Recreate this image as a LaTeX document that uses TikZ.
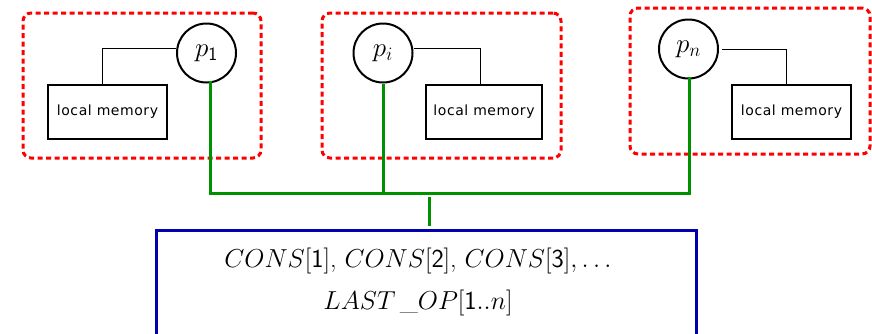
\RequirePackage{fix-cm}
\documentclass[tikz,border=0pt]{standalone}
\usepackage{fontspec}
\newfontfamily\memfont[LetterSpace=4]{DejaVu Sans}
\usetikzlibrary{calc}
\definecolor{busgreen}{RGB}{0,145,0}
\definecolor{sharedblue}{RGB}{0,0,175}
\definecolor{groupred}{RGB}{255,0,0}
\begin{document}
\begin{tikzpicture}[x=1pt,y=-1pt,
  proc/.style={circle,draw,line width=2pt,minimum size=59pt,inner sep=0pt,font=\fontsize{27}{32}\selectfont},
  membox/.style={draw,line width=2pt,minimum width=119pt,minimum height=54pt,inner sep=0pt,font=\memfont\fontsize{14}{16}\selectfont},
  groupbox/.style={draw=groupred,line width=3pt,dash pattern=on 5pt off 3.5pt,rounded corners=8pt,inner sep=0pt},
  wire/.style={line width=1pt},
  bus/.style={draw=busgreen,line width=3pt},
  sharedbox/.style={draw=sharedblue,line width=3pt,minimum width=540pt,minimum height=140pt,inner sep=0pt},
  sharedtxt/.style={align=center,inner sep=0pt,font=\fontsize{26}{42}\selectfont}]
\useasboundingbox (0,0) rectangle (872,333);

% groups
\node[groupbox,minimum width=238pt,minimum height=145pt] (g1) at (142,85.5) {};
\node[groupbox,minimum width=239pt,minimum height=145pt] (gi) at (441.5,85.5) {};
\node[groupbox,minimum width=240pt,minimum height=146pt] (gn) at (750,81) {};

% processes
\node[proc] (p1) at (206.5,53) {$p_{\mathsf{1}}$};
\node[proc] (pi) at (383,53) {$p_i$};
\node[proc] (pn) at (688.5,49) {$p_n$};

% local memories
\node[membox] (m1) at (107.5,112) {local memory};
\node[membox,minimum width=116pt] (mi) at (484,112) {local memory};
\node[membox] (mn) at (791.5,112) {local memory};

% process-memory wires
\draw[wire] (p1.172) -| ([xshift=-5.5pt]m1.north);
\draw[wire] ([xshift=1pt]pi.8) -| ([xshift=-4pt]mi.north);
\draw[wire] ([xshift=3pt]pn.east) -| ([xshift=-5.5pt]mn.north);

% shared memory
\node[sharedbox,anchor=north] (shared) at (426,229) {};
\node[sharedtxt,anchor=north] (sharedtext) at (418,247.5)
  {$CONS[\mathsf{1}]$, $CONS[\mathsf{2}]$, $CONS[\mathsf{3}], \ldots$\\
   $LAST\,{\_}OP[\mathsf{1}..n]$};

% bus
\coordinate (b1) at (210,193);
\coordinate (bi) at (383,193);
\coordinate (bn) at (689,193);
\coordinate (stubtop) at (429,197);
\draw[bus] ($(p1.south)+(3.5,-3)$) -- (b1) -- (bn) -- ($(pn.south)+(0.5,-3)$);
\draw[bus] (pi.south) -- (bi);
\draw[bus] (stubtop) -- ($(shared.north)+(3,-3)$);
\end{tikzpicture}
\end{document}
